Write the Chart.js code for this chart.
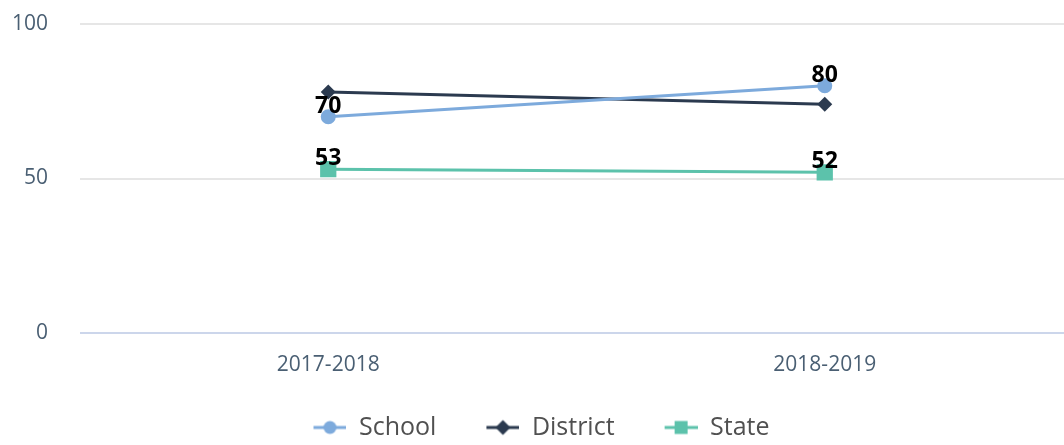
<!DOCTYPE html>
<html>
<head>
<meta charset="utf-8">
<script src="https://cdn.jsdelivr.net/npm/chart.js@4"></script>
<style>
  html, body { margin: 0; padding: 0; background: #ffffff; overflow: hidden; }
  #c { display: block; }
</style>
</head>
<body>
<canvas id="c" width="1073" height="450" style="width:1073px;height:450px"></canvas>
<script>
const categories = ['2017-2018', '2018-2019'];
const schoolValues = [70, 80];
const districtValues = [78, 74];
const stateValues = [53, 52];
const yTicks = [0, 50, 100];

const FONT = "'Open Sans', 'Noto Sans', sans-serif";
const colors = { school: '#7daadc', district: '#2b3a4f', state: '#5cc2ab' };

const ICON_W = 43;
function legendIcon(color, style, r) {
  const cv = document.createElement('canvas');
  cv.width = ICON_W; cv.height = 20;
  const g = cv.getContext('2d');
  g.strokeStyle = color; g.fillStyle = color; g.lineWidth = 3;
  const x0 = ICON_W - 33;
  g.beginPath(); g.moveTo(x0, 10); g.lineTo(ICON_W, 10); g.stroke();
  const cx = x0 + 16.5, cy = 10;
  g.beginPath();
  if (style === 'circle') { g.arc(cx, cy, r, 0, Math.PI * 2); }
  else if (style === 'diamond') { g.moveTo(cx, cy - r); g.lineTo(cx + r, cy); g.lineTo(cx, cy + r); g.lineTo(cx - r, cy); g.closePath(); }
  else { g.rect(cx - r, cy - r, 2 * r, 2 * r); }
  g.fill();
  return cv;
}
const icons = [legendIcon(colors.school, 'circle', 6.5), legendIcon(colors.district, 'diamond', 7.5), legendIcon(colors.state, 'rect', 6.5)];

const labelPlugin = {
  id: 'valueLabels',
  afterDatasetsDraw(chart) {
    const ctx = chart.ctx;
    ctx.save();
    ctx.font = "bold 23px " + FONT;
    ctx.fillStyle = '#000000';
    ctx.textAlign = 'center';
    ctx.textBaseline = 'alphabetic';
    chart.data.datasets.forEach((ds, di) => {
      if (!ds.showLabels) return;
      const meta = chart.getDatasetMeta(di);
      meta.data.forEach((pt, i) => {
        ctx.fillText(String(ds.data[i]), pt.x, pt.y - 4);
      });
    });
    ctx.restore();
  }
};

new Chart(document.getElementById('c'), {
  type: 'line',
  data: {
    labels: categories,
    datasets: [
      { label: 'School', data: schoolValues, borderColor: colors.school, backgroundColor: colors.school,
        pointStyle: 'circle', pointRadius: 7.5, pointBorderWidth: 0, borderWidth: 3, showLabels: true },
      { label: 'District', data: districtValues, borderColor: colors.district, backgroundColor: colors.district,
        pointStyle: 'rectRot', pointRadius: 7.5, pointBorderWidth: 0, borderWidth: 3, showLabels: false },
      { label: 'State', data: stateValues, borderColor: colors.state, backgroundColor: colors.state,
        pointStyle: 'rect', pointRadius: 11.5, pointBorderWidth: 0, borderWidth: 3, showLabels: true }
    ]
  },
  options: {
    responsive: false,
    animation: false,
    layout: { autoPadding: false, padding: { top: 24, right: 0, bottom: 0, left: 0 } },
    plugins: {
      tooltip: { enabled: false },
      legend: {
        position: 'bottom',
        labels: {
          usePointStyle: true,
          pointStyleWidth: ICON_W,
          padding: 40,
          color: '#505050',
          font: { family: FONT, size: 25 },
          generateLabels(chart) {
            return chart.data.datasets.map((ds, i) => ({
              text: ds.label, pointStyle: icons[i], fillStyle: ds.borderColor,
              strokeStyle: ds.borderColor, lineWidth: 0, hidden: false, datasetIndex: i, fontColor: '#505050'
            }));
          }
        }
      }
    },
    scales: {
      x: {
        offset: true,
        afterFit(scale) { scale.paddingLeft = 0; scale.paddingRight = 0; scale.height = 42; },
        grid: { display: false, drawTicks: false },
        border: { display: false },
        ticks: { color: '#4a5f73', padding: 19, font: { family: FONT, size: 21 } }
      },
      y: {
        min: 0, max: 100,
        afterFit(scale) { scale.width = 80; scale.paddingTop = 0; scale.paddingBottom = 0; },
        afterBuildTicks(scale) { scale.ticks = yTicks.map(v => ({ value: v })); },
        grid: {
          drawTicks: false,
          lineWidth: 2,
          color: (c) => (c.tick && c.tick.value === 0) ? '#ccd6eb' : '#e6e6e6'
        },
        border: { display: false },
        ticks: { color: '#4a5f73', padding: 32, font: { family: FONT, size: 21 } }
      }
    }
  },
  plugins: [labelPlugin]
});
</script>
</body>
</html>
